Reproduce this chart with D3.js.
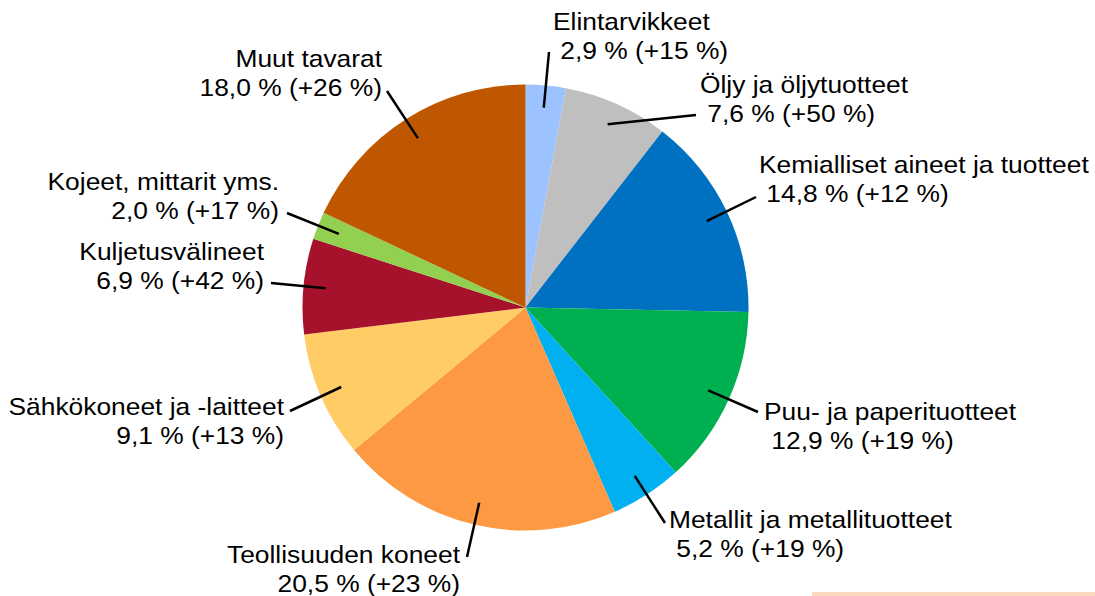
<!DOCTYPE html>
<html>
<head>
<meta charset="utf-8">
<script src="https://cdn.jsdelivr.net/npm/d3@7"></script>
<style>
  html, body { margin: 0; padding: 0; background: #fff; }
  svg { display: block; }
  text { font-family: "Liberation Sans", Arial, sans-serif; fill: #000; }
</style>
</head>
<body>
<svg id="chart" width="1095" height="596"></svg>
<script>
// Product groups, share of exports (%) and change from the previous year (%)
const categories = [
  "Elintarvikkeet",
  "Öljy ja öljytuotteet",
  "Kemialliset aineet ja tuotteet",
  "Puu- ja paperituotteet",
  "Metallit ja metallituotteet",
  "Teollisuuden koneet",
  "Sähkökoneet ja -laitteet",
  "Kuljetusvälineet",
  "Kojeet, mittarit yms.",
  "Muut tavarat"
];
const shares  = [2.9, 7.6, 14.8, 12.9, 5.2, 20.5, 9.1, 6.9, 2.0, 18.0];
const changes = [15, 50, 12, 19, 19, 23, 13, 42, 17, 26];

const colors = ["#9CC3FF", "#BFBFBF", "#0070C0", "#00B050", "#00B0F0",
                "#FD9843", "#FFCC66", "#A6122B", "#92D050", "#BF5700"];

// Label placement: anchor side, first-line position, and where the leader line ends
const labelLayout = [
  { side: "start", x: 553, y: 30,  lx: 549, ly: 52  },
  { side: "start", x: 700, y: 93,  lx: 696, ly: 115 },
  { side: "start", x: 759, y: 173, lx: 756, ly: 197 },
  { side: "start", x: 764, y: 420, lx: 758, ly: 412 },
  { side: "start", x: 669, y: 528, lx: 665, ly: 523 },
  { side: "end",   x: 460, y: 563, lx: 467, ly: 557 },
  { side: "end",   x: 284, y: 415, lx: 290, ly: 411 },
  { side: "end",   x: 264, y: 260, lx: 271, ly: 283 },
  { side: "end",   x: 279, y: 190, lx: 287, ly: 213 },
  { side: "end",   x: 382, y: 67,  lx: 387, ly: 91  }
];

const fmt = v => v.toFixed(1).replace(".", ",");

const svg = d3.select("#chart");
const cx = 525.5, cy = 307.5, radius = 223;
const fontSize = 24.2, lineGap = 29, stretch = 1.09;

const data = categories.map((c, i) => ({ name: c, share: shares[i], change: changes[i], i }));

const pie = d3.pie().sort(null).value(d => d.share).startAngle(0).endAngle(2 * Math.PI);
const arcs = pie(data);
const arc = d3.arc().innerRadius(0).outerRadius(radius);

const g = svg.append("g").attr("transform", `translate(${cx},${cy})`);

g.selectAll("path.slice")
  .data(arcs)
  .join("path")
  .attr("class", "slice")
  .attr("d", arc)
  .attr("fill", d => colors[d.data.i]);

// Leader lines from inside each slice to its label
const midAngle = d => (d.startAngle + d.endAngle) / 2;
svg.append("g").selectAll("line")
  .data(arcs)
  .join("line")
  .attr("x1", d => cx + Math.sin(midAngle(d)) * radius * 0.9)
  .attr("y1", d => cy - Math.cos(midAngle(d)) * radius * 0.9)
  .attr("x2", d => labelLayout[d.data.i].lx)
  .attr("y2", d => labelLayout[d.data.i].ly)
  .attr("stroke", "#000")
  .attr("stroke-width", 2.5);

// Two-line labels: name, then share and change
const labels = svg.append("g").selectAll("g.label")
  .data(data)
  .join("g")
  .attr("class", "label")
  .attr("transform", d => {
    const L = labelLayout[d.i];
    return `translate(${L.x},${L.y}) scale(${stretch},1)`;
  });

labels.append("text")
  .attr("text-anchor", d => labelLayout[d.i].side)
  .attr("font-size", fontSize)
  .attr("x", 0).attr("y", 0)
  .text(d => d.name);

labels.append("text")
  .attr("text-anchor", d => labelLayout[d.i].side)
  .attr("font-size", fontSize)
  .attr("x", 0).attr("y", lineGap)
  .attr("xml:space", "preserve")
  .style("white-space", "pre")
  .text(d => (labelLayout[d.i].side === "start" ? " " : "") +
    `${fmt(d.share)} % (+${d.change} %)`);

// Pale strip along the bottom-right edge
svg.append("rect")
  .attr("x", 812).attr("y", 592)
  .attr("width", 283).attr("height", 4)
  .attr("fill", "#FCD8BC");
</script>
</body>
</html>
